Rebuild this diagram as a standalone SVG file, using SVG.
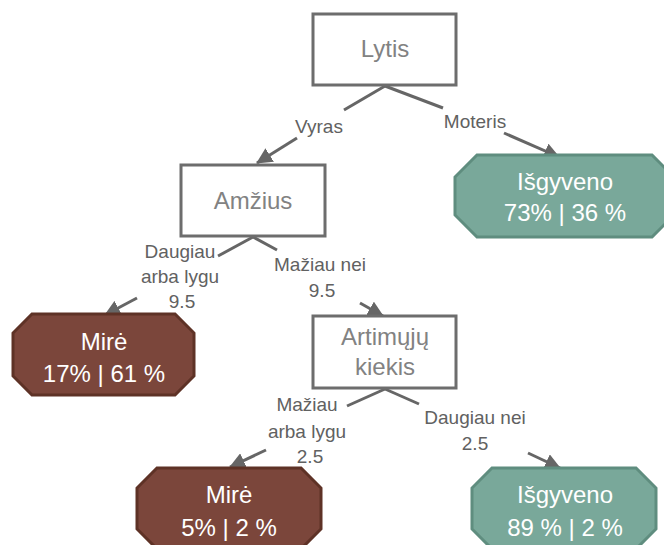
<svg xmlns="http://www.w3.org/2000/svg" width="664" height="545" viewBox="0 0 664 545">
<defs>
<style>
.box{fill:#ffffff;stroke:#6d6d6d;stroke-width:3}
.ntext{font-family:"Liberation Sans",Arial,sans-serif;font-size:24px;fill:#828282;text-anchor:middle}
.ltext{font-family:"Liberation Sans",Arial,sans-serif;font-size:24px;fill:#ffffff;text-anchor:middle}
.etext{font-family:"Liberation Sans",Arial,sans-serif;font-size:19px;fill:#616161;text-anchor:middle}
.edge{fill:none;stroke:#666666;stroke-width:3}
.brown{fill:#7b463b;stroke:#5e3226;stroke-width:3}
.green{fill:#79a89a;stroke:#5f8d7f;stroke-width:3}
</style>
<marker id="arr" markerUnits="userSpaceOnUse" markerWidth="16" markerHeight="16" refX="15" refY="8" orient="auto">
<path d="M0,0 L16,8 L0,16 Z" fill="#666666"/>
</marker>
</defs>
<rect width="664" height="545" fill="#ffffff"/>
<g id="connectors">
<path class="edge" d="M385,86 L344,110"/>
<path class="edge" d="M297,138 L257,163" marker-end="url(#arr)"/>
<path class="edge" d="M385,86 L443,108"/>
<path class="edge" d="M504,133 L559,157" marker-end="url(#arr)"/>
<path class="edge" d="M253,237 L218,256"/>
<path class="edge" d="M137,298 L105,315" marker-end="url(#arr)"/>
<path class="edge" d="M253,237 L277,250"/>
<path class="edge" d="M360,303 L383,316" marker-end="url(#arr)"/>
<path class="edge" d="M385,389 L347,406"/>
<path class="edge" d="M266,450 L230,467" marker-end="url(#arr)"/>
<path class="edge" d="M385,389 L419,404"/>
<path class="edge" d="M528,453 L560,468" marker-end="url(#arr)"/>
<text class="etext" x="319" y="133">Vyras</text>
<text class="etext" x="475" y="128">Moteris</text>
<text class="etext" x="180" y="258">Daugiau</text>
<text class="etext" x="180" y="283">arba lygu</text>
<text class="etext" x="182" y="308">9.5</text>
<text class="etext" x="320" y="271">Mažiau nei</text>
<text class="etext" x="322" y="297">9.5</text>
<text class="etext" x="307" y="411">Mažiau</text>
<text class="etext" x="307" y="438">arba lygu</text>
<text class="etext" x="310" y="463">2.5</text>
<text class="etext" x="475" y="424">Daugiau nei</text>
<text class="etext" x="475" y="450">2.5</text>
</g>
<g id="lytis">
<rect class="box" x="313" y="14" width="143" height="71"/>
<text class="ntext" x="385" y="57">Lytis</text>
</g>
<g id="amzius">
<rect class="box" x="181" y="165" width="144" height="71"/>
<text class="ntext" x="253" y="209">Amžius</text>
</g>
<g id="artimuju">
<rect class="box" x="313" y="316" width="143" height="72"/>
<text class="ntext" x="385" y="345">Artimųjų</text>
<text class="ntext" x="385" y="375">kiekis</text>
</g>
<g id="isgyveno1">
<path class="green" d="M477,155 H652 L674,177 V215 L652,237 H477 L455,215 V177 Z"/>
<text class="ltext" x="565" y="190">Išgyveno</text>
<text class="ltext" x="565" y="221">73% | 36 %</text>
</g>
<g id="mire1">
<path class="brown" d="M32,314 H175 L194,333 V376 L175,395 H32 L13,376 V333 Z"/>
<text class="ltext" x="104" y="350">Mirė</text>
<text class="ltext" x="104" y="382">17% | 61 %</text>
</g>
<g id="mire2">
<path class="brown" d="M157,468 H301 L321,488 V529 L301,549 H157 L137,529 V488 Z"/>
<text class="ltext" x="229" y="503">Mirė</text>
<text class="ltext" x="229" y="536">5% | 2 %</text>
</g>
<g id="isgyveno2">
<path class="green" d="M492,468 H636 L656,488 V529 L636,549 H492 L472,529 V488 Z"/>
<text class="ltext" x="565" y="503">Išgyveno</text>
<text class="ltext" x="565" y="536">89 % | 2 %</text>
</g>
</svg>
